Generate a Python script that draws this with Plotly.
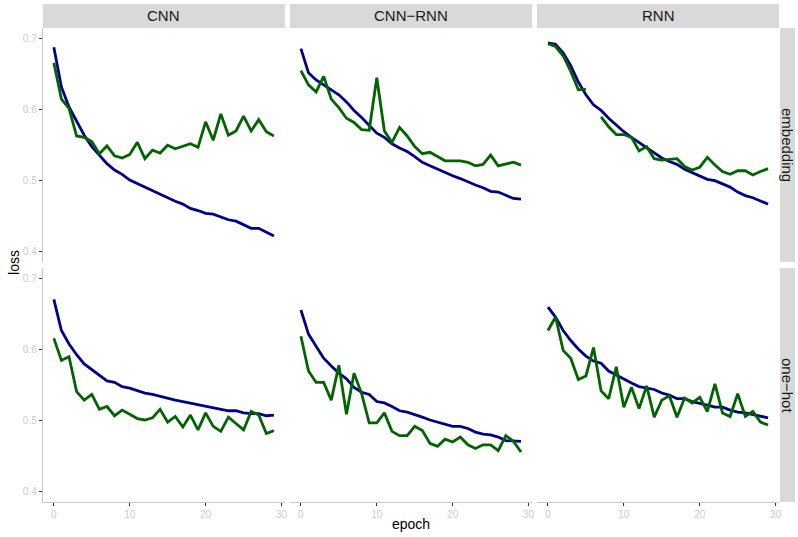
import plotly.graph_objects as go

epochs = list(range(30))
models = ["CNN", "CNN\u2212RNN", "RNN"]
encodings = ["embedding", "one\u2212hot"]
x_ticks = [0, 10, 20, 30]
y_ticks = [0.4, 0.5, 0.6, 0.7]
y_tick_labels = ["0.4", "0.5", "0.6", "0.7"]

# train loss (blue) and validation loss (green), epoch 0..29
cnn_emb_train = [0.687, 0.631, 0.603, 0.582, 0.563, 0.547, 0.535, 0.523, 0.514, 0.508,
                 0.500, 0.495, 0.490, 0.484, 0.479, 0.474, 0.470, 0.466, 0.460, 0.457,
                 0.453, 0.452, 0.448, 0.444, 0.442, 0.437, 0.432, 0.432, 0.426, 0.421]
cnn_emb_val = [0.665, 0.614, 0.601, 0.562, 0.560, 0.554, 0.537, 0.548, 0.534, 0.531,
               0.536, 0.553, 0.530, 0.542, 0.538, 0.549, 0.544, 0.547, 0.551, 0.546,
               0.582, 0.556, 0.593, 0.563, 0.569, 0.590, 0.569, 0.585, 0.568, 0.562]
cnnrnn_emb_train = [0.685, 0.651, 0.641, 0.634, 0.628, 0.620, 0.610, 0.598, 0.588, 0.577,
                    0.566, 0.560, 0.551, 0.545, 0.540, 0.533, 0.525, 0.520, 0.515, 0.510,
                    0.506, 0.502, 0.497, 0.493, 0.489, 0.484, 0.483, 0.478, 0.474, 0.473]
cnnrnn_emb_val = [0.654, 0.634, 0.624, 0.646, 0.614, 0.602, 0.587, 0.581, 0.571, 0.570,
                  0.644, 0.569, 0.553, 0.574, 0.562, 0.547, 0.537, 0.539, 0.533, 0.527,
                  0.527, 0.527, 0.525, 0.520, 0.522, 0.535, 0.520, 0.523, 0.525, 0.521]
rnn_emb_train = [0.693, 0.691, 0.679, 0.661, 0.638, 0.620, 0.606, 0.598, 0.587, 0.577,
                 0.568, 0.560, 0.553, 0.546, 0.539, 0.531, 0.526, 0.522, 0.515, 0.510,
                 0.506, 0.501, 0.499, 0.494, 0.490, 0.483, 0.478, 0.475, 0.470, 0.466]
rnn_emb_val = [0.692, 0.688, 0.675, 0.653, 0.627, 0.628, None, 0.589, 0.575, 0.564,
               0.564, 0.560, 0.541, 0.547, 0.530, 0.528, 0.529, 0.530, 0.519, 0.514,
               0.518, 0.532, 0.521, 0.512, 0.508, 0.513, 0.513, 0.507, 0.512, 0.516]
cnn_oh_train = [0.670, 0.626, 0.607, 0.592, 0.579, 0.571, 0.564, 0.555, 0.553, 0.547,
                0.545, 0.541, 0.538, 0.536, 0.533, 0.530, 0.528, 0.526, 0.524, 0.522,
                0.519, 0.517, 0.516, 0.513, 0.513, 0.510, 0.509, 0.509, 0.506, 0.507]
cnn_oh_val = [0.615, 0.584, 0.589, 0.540, 0.528, 0.536, 0.515, 0.519, 0.506, 0.514,
              0.508, 0.502, 0.500, 0.503, 0.515, 0.497, 0.505, 0.490, 0.507, 0.486,
              0.510, 0.491, 0.484, 0.504, 0.495, 0.486, 0.512, 0.507, 0.481, 0.485]
cnnrnn_oh_train = [0.655, 0.621, 0.604, 0.587, 0.576, 0.566, 0.558, 0.546, 0.539, 0.536,
                   0.526, 0.524, 0.519, 0.513, 0.511, 0.508, 0.504, 0.500, 0.497, 0.494,
                   0.491, 0.491, 0.488, 0.483, 0.480, 0.479, 0.476, 0.471, 0.470, 0.470]
cnnrnn_oh_val = [0.618, 0.569, 0.553, 0.553, 0.528, 0.577, 0.508, 0.566, 0.537, 0.496,
                 0.496, 0.510, 0.484, 0.478, 0.478, 0.491, 0.485, 0.467, 0.463, 0.473,
                 0.469, 0.476, 0.465, 0.460, 0.465, 0.465, 0.457, 0.478, 0.470, 0.455]
rnn_oh_train = [0.659, 0.645, 0.626, 0.612, 0.600, 0.590, 0.583, 0.580, 0.569, 0.563,
                0.557, 0.552, 0.547, 0.545, 0.543, 0.538, 0.535, 0.530, 0.530, 0.526,
                0.524, 0.521, 0.518, 0.518, 0.514, 0.511, 0.510, 0.508, 0.505, 0.503]
rnn_oh_val = [0.626, 0.645, 0.598, 0.587, 0.557, 0.562, 0.602, 0.541, 0.530, 0.575,
              0.518, 0.546, 0.516, 0.548, 0.504, 0.528, 0.534, 0.504, 0.531, 0.524,
              0.532, 0.512, 0.551, 0.510, 0.505, 0.537, 0.505, 0.512, 0.497, 0.493]

train = [[cnn_emb_train, cnnrnn_emb_train, rnn_emb_train],
         [cnn_oh_train, cnnrnn_oh_train, rnn_oh_train]]
val = [[cnn_emb_val, cnnrnn_emb_val, rnn_emb_val],
       [cnn_oh_val, cnnrnn_oh_val, rnn_oh_val]]

W, H = 798, 537
col_px = [(43, 286), (291, 534), (539, 782)]
row_px = [(28, 262), (268, 502)]
FONT = "Liberation Sans, Arial, Helvetica, sans-serif"
BLUE = "#00008B"
GREEN = "#006400"
TICKC = "#CCCCCC"

fig = go.Figure()
layout = dict(
    width=W, height=H, margin=dict(l=0, r=0, t=0, b=0),
    paper_bgcolor="white", plot_bgcolor="white", showlegend=False,
    font=dict(family=FONT), hovermode=False,
)
shapes = []
annotations = []
for r in range(2):
    for c in range(3):
        idx = r * 3 + c + 1
        xa = "xaxis" if idx == 1 else f"xaxis{idx}"
        ya = "yaxis" if idx == 1 else f"yaxis{idx}"
        xr = "x" if idx == 1 else f"x{idx}"
        yr = "y" if idx == 1 else f"y{idx}"
        x0, x1 = col_px[c]
        y0, y1 = row_px[r]
        layout[xa] = dict(
            domain=[x0 / W, x1 / W], anchor=yr, range=[-1.45, 30.45],
            showgrid=False, zeroline=False,
            tickvals=x_ticks, ticktext=[str(v) for v in x_ticks],
            showticklabels=(r == 1), ticks="outside" if r == 1 else "",
            ticklen=3, tickwidth=1, tickcolor="#333333",
            showline=(r == 1), linecolor="#C8C8C8", linewidth=1.2,
            tickfont=dict(size=10, color=TICKC, family=FONT),
        )
        layout[ya] = dict(
            domain=[1 - y1 / H, 1 - y0 / H], anchor=xr, range=[0.3845, 0.7141],
            showgrid=False, zeroline=False,
            tickvals=y_ticks, ticktext=y_tick_labels,
            showticklabels=(c == 0), ticks="outside" if c == 0 else "",
            ticklen=3, tickwidth=1, tickcolor="#333333",
            showline=(c == 0), linecolor="#C8C8C8", linewidth=1.2,
            tickfont=dict(size=10, color=TICKC, family=FONT),
        )
        fig.add_trace(go.Scatter(x=epochs, y=train[r][c], mode="lines", xaxis=xr, yaxis=yr,
                                 line=dict(color=BLUE, width=2.8), connectgaps=False))
        fig.add_trace(go.Scatter(x=epochs, y=val[r][c], mode="lines", xaxis=xr, yaxis=yr,
                                 line=dict(color=GREEN, width=2.8), connectgaps=False))

# top strips
for c in range(3):
    x0, x1 = col_px[c]
    shapes.append(dict(type="rect", xref="paper", yref="paper", x0=x0 / W, x1=x1 / W,
                       y0=1 - 28 / H, y1=1 - 4 / H, fillcolor="#D9D9D9", line=dict(width=0),
                       layer="below"))
    annotations.append(dict(text=models[c], xref="paper", yref="paper",
                            x=(x0 + x1) / 2 / W, y=1 - 16 / H, showarrow=False,
                            font=dict(size=15, color="#1A1A1A", family=FONT),
                            xanchor="center", yanchor="middle"))
# right strips
for r in range(2):
    y0, y1 = row_px[r]
    shapes.append(dict(type="rect", xref="paper", yref="paper", x0=783 / W, x1=1,
                       y0=1 - y1 / H, y1=1 - y0 / H, fillcolor="#D9D9D9", line=dict(width=0),
                       layer="below"))
    annotations.append(dict(text=encodings[r], xref="paper", yref="paper",
                            x=791 / W, y=1 - (y0 + y1) / 2 / H, showarrow=False, textangle=90,
                            font=dict(size=15, color="#1A1A1A", family=FONT),
                            xanchor="center", yanchor="middle"))
# axis titles
annotations.append(dict(text="epoch", xref="paper", yref="paper", x=413 / W, y=1 - 524 / H,
                        showarrow=False, font=dict(size=14, color="black", family=FONT),
                        xanchor="center", yanchor="middle"))
annotations.append(dict(text="loss", xref="paper", yref="paper", x=14 / W, y=1 - 262 / H,
                        showarrow=False, textangle=-90,
                        font=dict(size=14, color="black", family=FONT),
                        xanchor="center", yanchor="middle"))

layout["shapes"] = shapes
layout["annotations"] = annotations
fig.update_layout(**layout)
fig.write_html("out.html", config={"displayModeBar": False},
               post_script="document.body.style.margin='0';document.body.style.overflow='hidden';")
